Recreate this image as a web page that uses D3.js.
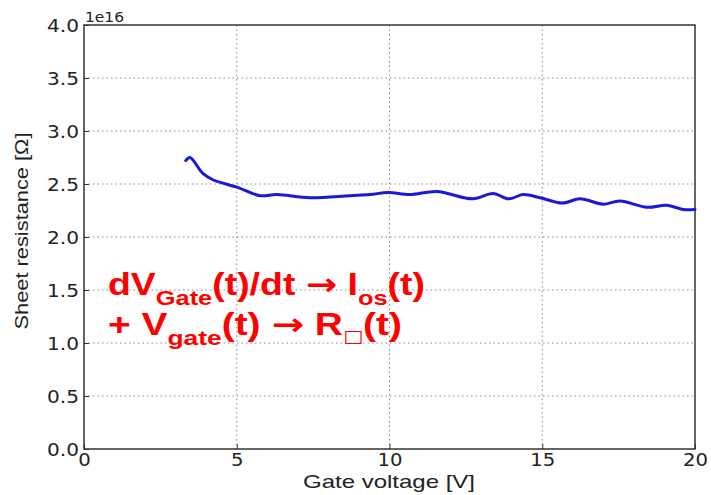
<!DOCTYPE html>
<html><head><meta charset="utf-8">
<script src="https://cdn.jsdelivr.net/npm/d3@7"></script>
<style>body{margin:0;background:#fff}svg{display:block}</style>
</head><body>
<svg id="c" width="711" height="495"></svg>
<script>
const voltage = [3.33,3.47,3.89,4.22,5.0,5.76,6.31,7.40,8.71,9.36,9.95,10.67,11.55,12.73,13.39,13.91,14.37,14.93,15.65,16.24,16.99,17.54,18.43,19.08,19.61,20.0];
const resistance = [2.72,2.75,2.60,2.54,2.47,2.39,2.40,2.37,2.39,2.40,2.42,2.40,2.43,2.36,2.41,2.36,2.40,2.37,2.32,2.36,2.31,2.34,2.28,2.30,2.26,2.26];
const xTicks = [0,5,10,15,20];
const yTicks = [0,0.5,1.0,1.5,2.0,2.5,3.0,3.5,4.0];

const svg = d3.select("#c");
const L=84,R=695,T=25,B=449;
const x = d3.scaleLinear().domain([0,20]).range([L,R]);
const y = d3.scaleLinear().domain([0,4]).range([B,T]);

// grid
svg.append("g").selectAll("line").data(xTicks.slice(1,-1)).join("line")
  .attr("x1",d=>x(d)).attr("x2",d=>x(d)).attr("y1",T).attr("y2",B)
  .attr("stroke","#888").attr("stroke-width",1).attr("stroke-dasharray","1.5,3");
svg.append("g").selectAll("line").data(yTicks.slice(1,-1)).join("line")
  .attr("y1",d=>y(d)).attr("y2",d=>y(d)).attr("x1",L).attr("x2",R)
  .attr("stroke","#888").attr("stroke-width",1).attr("stroke-dasharray","1.5,3");

// axes
const xa = svg.append("g").attr("transform",`translate(0,${B})`)
  .call(d3.axisBottom(x).tickValues(xTicks).tickFormat(d3.format("d")).tickSizeInner(-5).tickSizeOuter(0).tickPadding(4));
const ya = svg.append("g").attr("transform",`translate(${L},0)`)
  .call(d3.axisLeft(y).tickValues(yTicks).tickFormat(d3.format(".1f")).tickSizeInner(-5).tickSizeOuter(0).tickPadding(5));
[xa,ya].forEach(a=>{
  a.select(".domain").remove();
  a.selectAll("line").attr("stroke","#333");
  a.selectAll("text").attr("font-family","DejaVu Sans, sans-serif").attr("font-size",18).attr("fill","#222")
    .attr("lengthAdjust","spacingAndGlyphs");
});
ya.selectAll("text").attr("dy","0.36em").attr("textLength",32);
xa.selectAll("text").attr("dy","0.72em").attr("textLength",d=>String(d).length*12.5);

// frame
svg.append("rect").attr("x",L).attr("y",T).attr("width",R-L).attr("height",B-T)
  .attr("fill","none").attr("stroke","#333").attr("stroke-width",1.5);

svg.append("text").attr("x",L+1).attr("y",T-3).text("1e16")
  .attr("font-family","DejaVu Sans, sans-serif").attr("font-size",14).attr("fill","#222")
  .attr("textLength",39).attr("lengthAdjust","spacingAndGlyphs");

// line
const line = d3.line().x((d,i)=>x(voltage[i])).y((d,i)=>y(resistance[i])).curve(d3.curveCatmullRom.alpha(0.5));
svg.append("path").datum(resistance).attr("d",line).attr("fill","none")
  .attr("stroke","#1a1ad6").attr("stroke-width",3).attr("stroke-linejoin","round").attr("stroke-linecap","round");

// labels
svg.append("text").attr("x",389).attr("y",488).attr("text-anchor","middle")
  .attr("font-family","Liberation Sans, Arial, sans-serif").attr("font-size",19).attr("fill","#222")
  .attr("textLength",172).attr("lengthAdjust","spacingAndGlyphs").text("Gate voltage [V]");
svg.append("text").attr("transform",`translate(28,231) rotate(-90)`).attr("text-anchor","middle")
  .attr("font-family","Liberation Sans, Arial, sans-serif").attr("font-size",19).attr("fill","#222")
  .attr("textLength",197).attr("lengthAdjust","spacingAndGlyphs").text("Sheet resistance [Ω]");

// annotation
const ann = svg.append("g").attr("fill","#ff0000").attr("font-family","Liberation Sans, Arial, sans-serif").attr("font-weight","bold");
const t1 = ann.append("text").attr("x",108).attr("y",295).attr("font-size",31)
  .attr("textLength",317).attr("lengthAdjust","spacingAndGlyphs");
t1.append("tspan").text("dV");
t1.append("tspan").attr("font-size",21).attr("dy",10).text("Gate");
t1.append("tspan").attr("dy",-10).text("(t)/dt ");
t1.append("tspan").attr("font-family","DejaVu Sans, sans-serif").text("→");
t1.append("tspan").text(" I");
t1.append("tspan").attr("font-size",21).attr("dy",10).text("os");
t1.append("tspan").attr("dy",-10).text("(t)");
const t2 = ann.append("text").attr("x",108).attr("y",335).attr("font-size",31)
  .attr("textLength",294).attr("lengthAdjust","spacingAndGlyphs");
t2.append("tspan").text("+ V");
t2.append("tspan").attr("font-size",21).attr("dy",10).text("gate");
t2.append("tspan").attr("dy",-10).text("(t) ");
t2.append("tspan").attr("font-family","DejaVu Sans, sans-serif").text("→");
t2.append("tspan").text(" R");
t2.append("tspan").attr("font-family","DejaVu Sans, sans-serif").attr("font-weight","normal").attr("font-size",17).attr("dy",7).text("□");
t2.append("tspan").attr("dy",-7).text("(t)");
</script>
</body></html>
